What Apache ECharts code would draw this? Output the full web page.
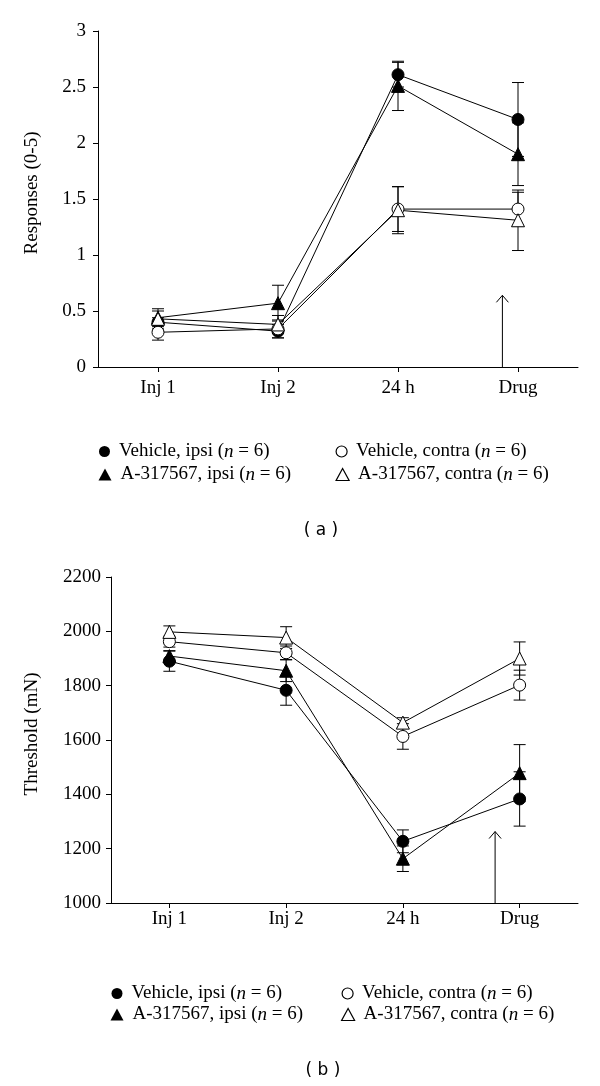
<!DOCTYPE html>
<html>
<head>
<meta charset="utf-8">
<script src="https://cdn.jsdelivr.net/npm/echarts@6/dist/echarts.min.js"></script>
<style>
html,body{margin:0;padding:0;background:#fff;}
#main{width:600px;height:1086px;}
</style>
</head>
<body>
<div id="main"></div>
<script>
// ---- data ----
const categories = ['Inj 1', 'Inj 2', '24 h', 'Drug'];
const seriesNames = ['Vehicle, ipsi', 'Vehicle, contra', 'A-317567, ipsi', 'A-317567, contra'];
const groupSize = 6;
const panelLabels = ['( a )', '( b )'];

// (a) Responses (0-5)
const respVehIpsi = [0.40, 0.32, 2.61, 2.21];
const respVehIpsiErr = [0.04, 0.06, 0.11, 0.33];
const respVehContra = [0.31, 0.34, 1.41, 1.41];
const respVehContraErr = [0.07, 0.08, 0.20, 0.15];
const respAIpsi = [0.44, 0.57, 2.51, 1.90];
const respAIpsiErr = [0.06, 0.16, 0.22, 0.28];
const respAContra = [0.43, 0.38, 1.40, 1.31];
const respAContraErr = [0.09, 0.08, 0.21, 0.27];
const respTicks = [0, 0.5, 1, 1.5, 2, 2.5, 3];
const respArrowTop = 0.64;

// (b) Threshold (mN)
const thrVehIpsi = [1890, 1783, 1227, 1383];
const thrVehIpsiErr = [37, 55, 42, 100];
const thrVehContra = [1962, 1921, 1613, 1802];
const thrVehContraErr = [20, 25, 47, 55];
const thrAIpsi = [1909, 1855, 1163, 1478];
const thrAIpsiErr = [20, 40, 47, 105];
const thrAContra = [1998, 1977, 1664, 1900];
const thrAContraErr = [22, 40, 18, 61];
const thrTicks = [1000, 1200, 1400, 1600, 1800, 2000, 2200];
const thrArrowTop = 1263;

// ---- chart ----
const SERIF = "Liberation Serif";
const SANS = "DejaVu Sans";
const chart = echarts.init(document.getElementById('main'), null, {renderer: 'canvas'});

const styles = {
  'Vehicle, ipsi': {symbol: 'circle', size: 12, fill: '#000'},
  'Vehicle, contra': {symbol: 'circle', size: 12, fill: '#fff'},
  'A-317567, ipsi': {symbol: 'triangle', size: 13, fill: '#000'},
  'A-317567, contra': {symbol: 'triangle', size: 13, fill: '#fff'}
};

function errorSeries(idx, vals, errs) {
  return {
    type: 'custom', xAxisIndex: idx, yAxisIndex: idx, z: 1, silent: true,
    data: vals.map((v, i) => [i, v, errs[i]]),
    renderItem: function (params, api) {
      const x = api.value(0), y = api.value(1), e = api.value(2);
      const hi = api.coord([x, y + e]);
      const lo = api.coord([x, y - e]);
      const w = 6;
      const st = {stroke: '#000', lineWidth: 1};
      return {type: 'group', children: [
        {type: 'line', shape: {x1: hi[0], y1: hi[1], x2: lo[0], y2: lo[1]}, style: st},
        {type: 'line', shape: {x1: hi[0] - w, y1: hi[1], x2: hi[0] + w, y2: hi[1]}, style: st},
        {type: 'line', shape: {x1: lo[0] - w, y1: lo[1], x2: lo[0] + w, y2: lo[1]}, style: st}
      ]};
    }
  };
}

function lineSeries(idx, name, vals) {
  const s = styles[name];
  return {
    type: 'line', name: name, xAxisIndex: idx, yAxisIndex: idx, z: 3,
    data: vals, symbol: s.symbol, symbolSize: s.size, showSymbol: true,
    lineStyle: {color: '#000', width: 1},
    itemStyle: {color: s.fill, borderColor: '#000', borderWidth: 1, opacity: 1},
    emphasis: {disabled: true}, animation: false
  };
}

function arrowSeries(idx, catIndex, offsetFrac, top, bottom) {
  return {
    type: 'custom', xAxisIndex: idx, yAxisIndex: idx, z: 2, silent: true,
    data: [[catIndex, top, bottom]],
    renderItem: function (params, api) {
      const band = api.size([1, 0])[0];
      const p1 = api.coord([api.value(0), api.value(1)]);
      const p0 = api.coord([api.value(0), api.value(2)]);
      const x = p1[0] + offsetFrac * band;
      const st = {stroke: '#000', lineWidth: 1, fill: null};
      return {type: 'group', children: [
        {type: 'line', shape: {x1: x, y1: p0[1], x2: x, y2: p1[1]}, style: st},
        {type: 'polyline', shape: {points: [[x - 6, p1[1] + 7], [x, p1[1]], [x + 6, p1[1] + 7]]}, style: st}
      ]};
    }
  };
}

const axisLine = {show: true, lineStyle: {color: '#000', width: 1}};
const axisTick = {show: true, length: 5, lineStyle: {color: '#000', width: 1}};

function xAxis(idx, margin) {
  return {
    type: 'category', gridIndex: idx, data: categories, boundaryGap: true,
    axisLine: axisLine, axisTick: Object.assign({alignWithLabel: true}, axisTick),
    axisLabel: {color: '#000', fontFamily: SERIF, fontSize: 19, margin: margin},
    splitLine: {show: false}
  };
}

function yAxis(idx, ticks, name, nameGap, labelMargin) {
  return {
    type: 'value', gridIndex: idx, min: ticks[0], max: ticks[ticks.length - 1],
    interval: ticks[1] - ticks[0],
    name: name, nameLocation: 'middle', nameGap: nameGap,
    nameTextStyle: {color: '#000', fontFamily: SERIF, fontSize: 19, padding: [0, 0, 0, 12]},
    axisLine: axisLine, axisTick: axisTick,
    axisLabel: {color: '#000', fontFamily: SERIF, fontSize: 19, margin: labelMargin,
      formatter: v => String(v)},
    splitLine: {show: false}
  };
}

function legendItem(name, left, top) {
  const s = styles[name];
  return {
    left: left, top: top, orient: 'horizontal', selectedMode: false, padding: 0,
    itemWidth: s.symbol === 'circle' ? 11 : 13, itemHeight: s.symbol === 'circle' ? 11 : 12,
    data: [{name: name, icon: s.symbol,
      itemStyle: {color: s.fill, borderColor: '#000', borderWidth: s.fill === '#fff' ? 1.2 : 0}}],
    formatter: function (n) { return '{t|' + n + ' (}{i|n}{t| = ' + groupSize + ')}'; },
    textStyle: {
      padding: [0, 0, 0, 4],
      rich: {
        t: {fontFamily: SERIF, fontSize: 19, lineHeight: 22, color: '#000'},
        i: {fontFamily: SERIF, fontSize: 19, lineHeight: 22, fontStyle: 'italic', color: '#000'}
      }
    }
  };
}

const option = {
  backgroundColor: '#fff',
  animation: false,
  grid: [
    {left: 98, top: 31, width: 480, height: 336},
    {left: 111, top: 577, width: 467, height: 326}
  ],
  xAxis: [xAxis(0, 12), xAxis(1, 7)],
  yAxis: [
    yAxis(0, respTicks, 'Responses (0-5)', 56, 12),
    yAxis(1, thrTicks, 'Threshold (mN)', 69, 10)
  ],
  legend: [
    legendItem('Vehicle, ipsi', 99, 442),
    legendItem('Vehicle, contra', 335.5, 442),
    legendItem('A-317567, ipsi', 98.5, 465),
    legendItem('A-317567, contra', 335.5, 465),
    legendItem('Vehicle, ipsi', 111.5, 984),
    legendItem('Vehicle, contra', 341.5, 984),
    legendItem('A-317567, ipsi', 110.5, 1005),
    legendItem('A-317567, contra', 341, 1005)
  ],
  graphic: [
    {type: 'text', x: 321, y: 531, style: {text: panelLabels[0], fontFamily: SANS, fontSize: 17,
      fill: '#000', align: 'center', verticalAlign: 'middle'}},
    {type: 'text', x: 323, y: 1071, style: {text: panelLabels[1], fontFamily: SANS, fontSize: 17,
      fill: '#000', align: 'center', verticalAlign: 'middle'}}
  ],
  series: [
    errorSeries(0, respVehIpsi, respVehIpsiErr),
    errorSeries(0, respVehContra, respVehContraErr),
    errorSeries(0, respAIpsi, respAIpsiErr),
    errorSeries(0, respAContra, respAContraErr),
    arrowSeries(0, 3, -0.13, respArrowTop, respTicks[0]),
    lineSeries(0, 'Vehicle, ipsi', respVehIpsi),
    lineSeries(0, 'A-317567, ipsi', respAIpsi),
    lineSeries(0, 'Vehicle, contra', respVehContra),
    lineSeries(0, 'A-317567, contra', respAContra),

    errorSeries(1, thrVehIpsi, thrVehIpsiErr),
    errorSeries(1, thrVehContra, thrVehContraErr),
    errorSeries(1, thrAIpsi, thrAIpsiErr),
    errorSeries(1, thrAContra, thrAContraErr),
    arrowSeries(1, 3, -0.21, thrArrowTop, thrTicks[0]),
    lineSeries(1, 'Vehicle, ipsi', thrVehIpsi),
    lineSeries(1, 'A-317567, ipsi', thrAIpsi),
    lineSeries(1, 'Vehicle, contra', thrVehContra),
    lineSeries(1, 'A-317567, contra', thrAContra)
  ]
};
chart.setOption(option);
</script>
</body>
</html>
